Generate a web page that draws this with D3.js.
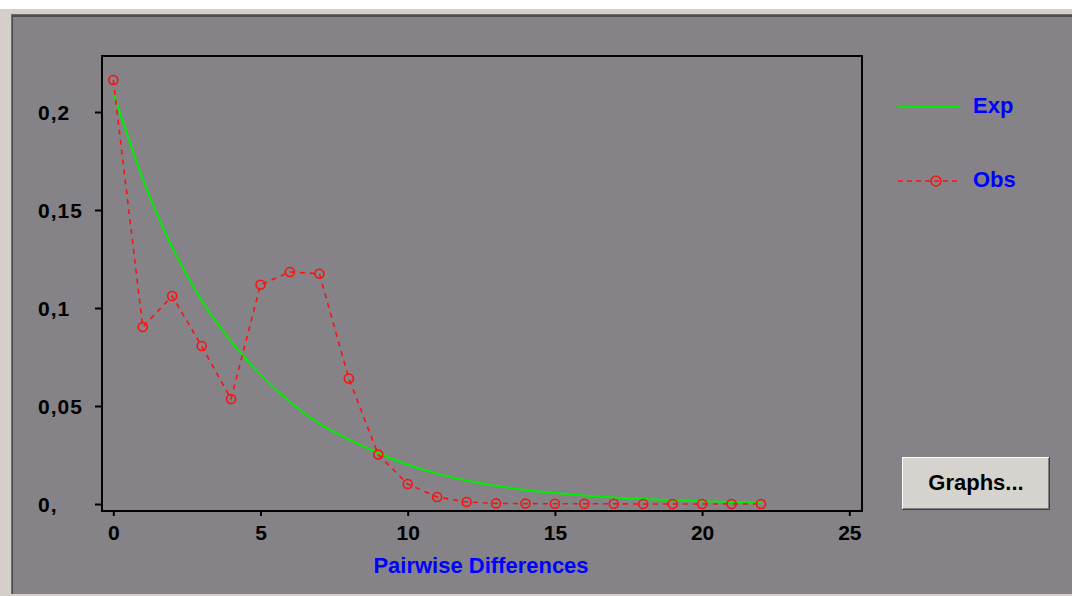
<!DOCTYPE html>
<html>
<head>
<meta charset="utf-8">
<script src="https://cdn.jsdelivr.net/npm/d3@7"></script>
<style>
  body { margin: 0; background: #ffffff; }
  text { font-family: "Liberation Sans", Arial, sans-serif; font-weight: bold; }
</style>
</head>
<body>
<svg id="drawing_region"></svg>
<script>
// pairwise differences (x), observed and expected frequencies
const diffs = [0,1,2,3,4,5,6,7,8,9,10,11,12,13,14,15,16,17,18,19,20,21,22];
const obs = [0.2163,0.0903,0.1061,0.0806,0.0536,0.1119,0.1184,0.1175,0.0640,0.0252,0.0102,0.0036,0.0010,
             0.0003,0.0002,0.0001,0.0001,0.0001,0.0000,0.0000,0.0000,0.0000,0.0000];
const exp = [0.210,0.166,0.131,0.104,0.083,0.066,0.052,0.041,0.033,0.026,0.020,0.0155,0.012,
             0.0093,0.0072,0.0056,0.0043,0.0033,0.0025,0.0019,0.0014,0.0010,0.0007];
const yticks = [0, 0.05, 0.1, 0.15, 0.2];
const ytick_labels = ["0,", "0,05", "0,1", "0,15", "0,2"];
const xticks = [0, 5, 10, 15, 20, 25];
const series_names = ["Exp", "Obs"];

const config = {
    width: 1072,
    height: 596,
    margin: {top: 56, left: 102},
    inner_width: 760,
    inner_height: 455
};

const svg = d3.select('#drawing_region')
    .attr('width', config.width)
    .attr('height', config.height);

// window background and sunken panel
svg.append('rect').attr('x', 0).attr('y', 0).attr('width', config.width).attr('height', config.height).attr('fill', '#ffffff');
svg.append('rect').attr('x', 0).attr('y', 9).attr('width', config.width).attr('height', config.height - 9).attr('fill', '#d4d0c8');
svg.append('rect').attr('x', 11).attr('y', 14).attr('width', config.width - 11).attr('height', 580).attr('fill', '#6e6c70');
svg.append('rect').attr('x', 12).attr('y', 15).attr('width', config.width - 12).attr('height', 579).attr('fill', '#4c4b4e');
svg.append('rect').attr('x', 13).attr('y', 17).attr('width', config.width - 13).attr('height', 577).attr('fill', '#858387');

const chart = svg.append('g')
    .attr('transform', `translate(${config.margin.left}, ${config.margin.top})`);

const xscale = d3.scaleLinear()
    .domain([0, 25])
    .range([11.3, 747.3]);

const yscale = d3.scaleLinear()
    .domain([0, 0.2])
    .range([448, 56]);

// y axis ticks + labels (labels left aligned like the original)
const yaxis = d3.axisLeft(yscale)
    .tickValues(yticks)
    .tickSize(7)
    .tickSizeOuter(0)
    .tickFormat((d, i) => ytick_labels[i]);

const yaxis_group = chart.append('g').call(yaxis);
yaxis_group.select('.domain').remove();
yaxis_group.selectAll('line').attr('stroke', '#000').attr('stroke-width', 2);
yaxis_group.selectAll('text')
    .attr('x', 38 - config.margin.left)
    .attr('dy', '0.36em')
    .attr('text-anchor', 'start')
    .attr('fill', '#000')
    .style('font-size', '21px')
    .style('letter-spacing', '1px');

const xaxis = d3.axisBottom(xscale)
    .tickValues(xticks)
    .tickSize(5)
    .tickSizeOuter(0)
    .tickFormat(d3.format('d'));

const xaxis_group = chart.append('g')
    .attr('transform', `translate(0, ${config.inner_height})`)
    .call(xaxis);
xaxis_group.select('.domain').remove();
xaxis_group.selectAll('line').attr('stroke', '#000').attr('stroke-width', 2);
xaxis_group.selectAll('text')
    .attr('y', 29)
    .attr('dy', 0)
    .attr('fill', '#000')
    .style('font-size', '21px');

// plot frame
chart.append('rect')
    .attr('x', 0).attr('y', 0)
    .attr('width', config.inner_width)
    .attr('height', config.inner_height)
    .attr('fill', 'none')
    .attr('stroke', '#000')
    .attr('stroke-width', 2);

// expected curve
const exp_line = d3.line()
    .x((d, i) => xscale(diffs[i]))
    .y(d => yscale(d))
    .curve(d3.curveMonotoneX);

chart.append('path')
    .datum(exp)
    .attr('d', exp_line)
    .attr('fill', 'none')
    .attr('stroke', '#00ee00')
    .attr('stroke-width', 2);

// observed
const obs_line = d3.line()
    .x((d, i) => xscale(diffs[i]))
    .y(d => yscale(d));

chart.append('path')
    .datum(obs)
    .attr('d', obs_line)
    .attr('fill', 'none')
    .attr('stroke', '#ff1010')
    .attr('stroke-width', 1.6)
    .attr('stroke-dasharray', '5,5');

chart.selectAll('circle.obs')
    .data(obs)
    .enter()
    .append('circle')
    .attr('class', 'obs')
    .attr('cx', (d, i) => xscale(diffs[i]))
    .attr('cy', d => yscale(d))
    .attr('r', 4.5)
    .attr('fill', 'none')
    .attr('stroke', '#ff1010')
    .attr('stroke-width', 1.6);

// x label
svg.append('text')
    .attr('x', 481)
    .attr('y', 573)
    .attr('text-anchor', 'middle')
    .attr('fill', '#0000ff')
    .style('font-size', '22px')
    .text('Pairwise Differences');

// legend
const legend = svg.append('g');
legend.append('line')
    .attr('x1', 898).attr('x2', 959).attr('y1', 107).attr('y2', 107)
    .attr('stroke', '#00ee00').attr('stroke-width', 2);
legend.append('line')
    .attr('x1', 898).attr('x2', 959).attr('y1', 181).attr('y2', 181)
    .attr('stroke', '#ff1010').attr('stroke-width', 1.6).attr('stroke-dasharray', '5,4');
legend.append('circle')
    .attr('cx', 936).attr('cy', 181).attr('r', 5)
    .attr('fill', 'none').attr('stroke', '#ff1010').attr('stroke-width', 1.6);
legend.selectAll('text')
    .data(series_names)
    .enter()
    .append('text')
    .attr('x', 973)
    .attr('y', (d, i) => i === 0 ? 113 : 187)
    .attr('fill', '#0000ff')
    .style('font-size', '22px')
    .text(d => d);

// Graphs... button
const btn = svg.append('g');
btn.append('rect').attr('x', 902).attr('y', 457).attr('width', 148).attr('height', 53).attr('fill', '#404040');
btn.append('rect').attr('x', 902).attr('y', 457).attr('width', 147).attr('height', 52).attr('fill', '#ffffff');
btn.append('rect').attr('x', 903).attr('y', 458).attr('width', 146).attr('height', 51).attr('fill', '#808080');
btn.append('rect').attr('x', 903).attr('y', 458).attr('width', 145).attr('height', 50).attr('fill', '#d6d3ce');
btn.append('text')
    .attr('x', 976)
    .attr('y', 490)
    .attr('text-anchor', 'middle')
    .attr('fill', '#000')
    .style('font-size', '22px')
    .text('Graphs...');
</script>
</body>
</html>
